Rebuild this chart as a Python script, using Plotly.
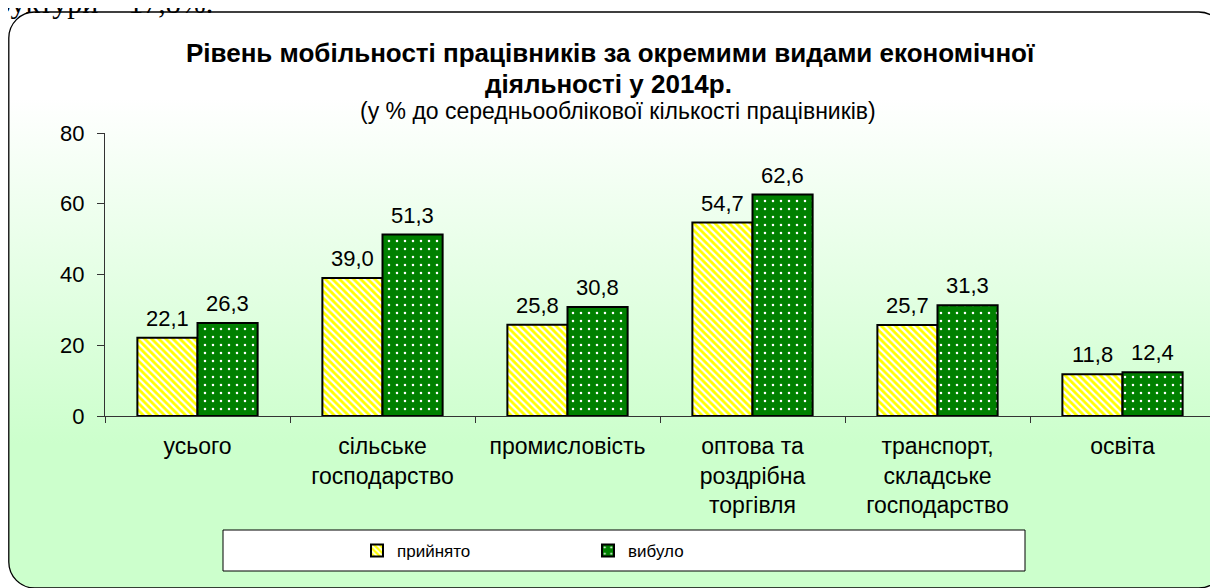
import plotly.graph_objects as go
import urllib.parse

categories = ["усього", "сільське<br>господарство", "промисловість",
              "оптова та<br>роздрібна<br>торгівля", "транспорт,<br>складське<br>господарство", "освіта"]
hired = [22.1, 39.0, 25.8, 54.7, 25.7, 11.8]
left_ = [26.3, 51.3, 30.8, 62.6, 31.3, 12.4]
series_names = ["прийнято", "вибуло"]
y_ticks = [0, 20, 40, 60, 80]

# page body has an 8px margin, so work in page pixels and shift
OFF = 8
W, H = 1218 - OFF, 588 - OFF
L, R, T, B = 105 - OFF, 1215 - OFF, 133 - OFF, 416 - OFF
pw, ph = R - L, B - T
BARGAP = 0.35
half_bar = pw / len(categories) * (1 - BARGAP) / 4  # pixel offset of each bar centre

def px(x):  # page pixel -> paper
    return (x - OFF - L) / pw

def py(y):
    return (B - (y - OFF)) / ph

FONT = "Liberation Sans, Arial, sans-serif"

bg_svg = (
    f"<svg xmlns='http://www.w3.org/2000/svg' width='{W}' height='{H}' viewBox='0 0 {W} {H}'>"
    "<defs><linearGradient id='g' x1='0' y1='0' x2='0' y2='1'>"
    "<stop offset='0' stop-color='#FFFFFF'/><stop offset='0.15' stop-color='#FFFFFF'/>"
    "<stop offset='0.75' stop-color='#CCFFCC'/><stop offset='1' stop-color='#CCFFCC'/>"
    "</linearGradient></defs>"
    "<rect x='0.8' y='4' width='1216' height='576' rx='26' ry='26' fill='url(#g)' stroke='#000' stroke-width='1.3'/>"
    "</svg>"
)
bg_uri = "data:image/svg+xml;charset=utf-8," + urllib.parse.quote(bg_svg)

fig = go.Figure()
fig.add_trace(go.Bar(
    name=series_names[0], x=categories, y=hired,
    marker=dict(color="#FFFF00", line=dict(color="black", width=2),
                pattern=dict(shape="\\", fgcolor="white", bgcolor="#FFFF00",
                             size=5, solidity=0.45, fillmode="replace")),
))
fig.add_trace(go.Bar(
    name=series_names[1], x=categories, y=left_,
    marker=dict(color="#008000", line=dict(color="black", width=2),
                pattern=dict(shape=".", fgcolor="white", bgcolor="#008000",
                             size=8, solidity=0.08, fillmode="replace")),
))

# value labels above bars
for vals, shift in ((hired, -half_bar), (left_, half_bar)):
    for cat, v in zip(categories, vals):
        fig.add_annotation(x=cat, y=v, xref="x", yref="y", xshift=shift, yshift=5,
                           yanchor="bottom", xanchor="center", showarrow=False,
                           text=f"{v:.1f}".replace(".", ","),
                           font=dict(size=22, color="black", family=FONT))

fig.update_layout(
    width=W, height=H,
    margin=dict(l=L, r=W - R, t=T, b=H - B, pad=0),
    paper_bgcolor="white", plot_bgcolor="rgba(0,0,0,0)",
    barmode="group", bargap=BARGAP, bargroupgap=0,
    font=dict(family=FONT, size=22, color="black"),
    showlegend=True,
    legend=dict(orientation="h", x=px(357), y=py(551), xanchor="left", yanchor="middle",
                bgcolor="rgba(0,0,0,0)", borderwidth=0,
                font=dict(size=17, family=FONT), entrywidth=186, entrywidthmode="pixels",
                itemwidth=30, traceorder="normal"),
    images=[dict(source=bg_uri, xref="paper", yref="paper",
                 x=px(OFF), y=py(OFF), sizex=W / pw, sizey=H / ph,
                 xanchor="left", yanchor="top", sizing="stretch", layer="below")],
    shapes=[dict(type="rect", xref="paper", yref="paper",
                 x0=px(223), x1=px(1025), y0=py(530), y1=py(571),
                 fillcolor="white", line=dict(color="black", width=1), layer="below")],
)

fig.update_yaxes(range=[0, 80], tickvals=y_ticks, ticks="outside", ticklen=7,
                 tickcolor="#333", showline=True, linecolor="#333", linewidth=1,
                 showgrid=False, zeroline=False, ticklabelstandoff=8,
                 tickfont=dict(size=22, family=FONT))
fig.update_xaxes(ticks="outside", tickson="boundaries", ticklen=6, tickcolor="#333",
                 showline=True, linecolor="#333", linewidth=1, showgrid=False,
                 ticklabelstandoff=9,
                 tickfont=dict(size=23, family=FONT))

title1 = "<b>Рівень мобільності працівників за окремими видами економічної</b>"
title2 = "<b>діяльності у 2014р.</b>"
subtitle = "(у % до середньооблікової кількості працівників)"
anns = [
    dict(text=title1, x=px(610), y=py(53), font=dict(size=26, family=FONT)),
    dict(text=title2, x=px(608), y=py(84), font=dict(size=26, family=FONT)),
    dict(text=subtitle, x=px(618), y=py(111), font=dict(size=23, family=FONT)),
    dict(text="структури – 17,8%.", x=px(215), y=py(21), xanchor="right", yanchor="bottom",
         font=dict(size=30, family="Liberation Serif, Times New Roman, serif")),
]
for a in anns:
    a.setdefault("xanchor", "center")
    a.setdefault("yanchor", "middle")
    fig.add_annotation(xref="paper", yref="paper", showarrow=False, **a)

fig.write_html("out.html")
